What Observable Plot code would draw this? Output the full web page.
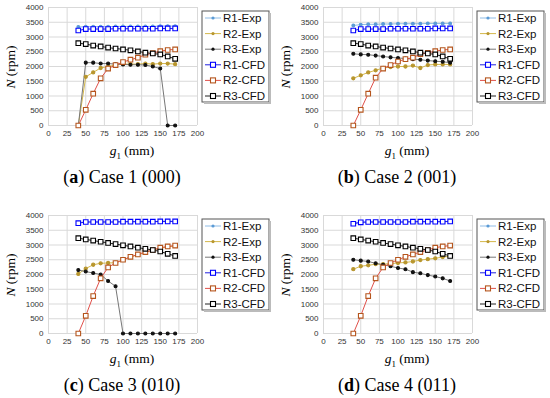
<!DOCTYPE html>
<html><head><meta charset="utf-8">
<script src="https://cdn.jsdelivr.net/npm/d3@7"></script>
<script src="https://cdn.jsdelivr.net/npm/@observablehq/plot@0.6"></script>
<style>
body{margin:0;background:#fff;}
#wrap{position:relative;width:550px;height:398px;overflow:hidden;background:#fff;}
.panel{position:absolute;width:275px;height:200px;}
.panel svg.plot{position:absolute;left:0;top:0;}
.ylab{position:absolute;font-family:"Liberation Serif",serif;font-size:13.5px;transform:translate(-50%,-50%) rotate(-90deg);white-space:nowrap;}
.xlab{position:absolute;font-family:"Liberation Serif",serif;font-size:13.5px;transform:translate(-50%,-50%);white-space:nowrap;}
.cap{position:absolute;font-family:"Liberation Serif",serif;font-size:18px;transform:translate(-50%,-50%);white-space:nowrap;}
.leg{position:absolute;}
</style></head>
<body><div id="wrap"></div>
<script>
const gapX = [40,50,60,70,80,90,100,110,120,130,140,150,160,170];
const xTicks = [0,25,50,75,100,125,150,175,200];
const yTicks = [0,500,1000,1500,2000,2500,3000,3500,4000];
const seriesNames = ["R1-Exp","R2-Exp","R3-Exp","R1-CFD","R2-CFD","R3-CFD"];
const captionLetters = ["a","b","c","d"];
const captionTexts = ["Case 1 (000)","Case 2 (001)","Case 3 (010)","Case 4 (011)"];

// Case 1 (000)
const c1R1Exp = [3340,3350,3350,3350,3350,3360,3360,3360,3360,3360,3360,3370,3370,3370];
const c1R2Exp = [0,1650,1800,1950,2000,2050,2080,2080,2080,2100,2080,2100,2100,2080];
const c1R3Exp = [0,2130,2130,2100,2100,2080,2070,2060,2060,2050,2000,1930,0,0];
const c1R1CFD = [3220,3270,3270,3270,3270,3280,3280,3280,3280,3280,3280,3290,3290,3290];
const c1R2CFD = [0,530,1080,1600,1930,2050,2150,2230,2300,2400,2450,2520,2560,2580];
const c1R3CFD = [2790,2760,2710,2680,2640,2610,2580,2550,2510,2470,2440,2410,2340,2260];
// Case 2 (001)
const c2R1Exp = [3390,3420,3430,3430,3440,3440,3450,3450,3450,3450,3460,3460,3460,3460];
const c2R2Exp = [1600,1700,1800,1870,1950,1980,2000,2000,2030,1950,2050,2070,2070,2070];
const c2R3Exp = [2430,2410,2400,2370,2340,2310,2290,2270,2250,2230,2200,2180,2160,2130];
const c2R1CFD = [3220,3270,3270,3270,3270,3280,3280,3280,3280,3280,3280,3290,3290,3290];
const c2R2CFD = [0,530,1080,1620,1930,2050,2170,2250,2300,2420,2460,2520,2560,2580];
const c2R3CFD = [2790,2760,2710,2680,2640,2610,2580,2550,2510,2470,2440,2410,2340,2260];
// Case 3 (010)
const c3R1Exp = [3760,3780,3780,3780,3780,3780,3790,3790,3790,3790,3790,3800,3800,3800];
const c3R2Exp = [2020,2200,2330,2380,2390,2400,2490,2590,2670,2750,2820,2890,2940,2970];
const c3R3Exp = [2150,2100,2050,2000,1780,1600,0,0,0,0,0,0,0,0];
const c3R1CFD = [3740,3780,3780,3780,3780,3780,3790,3790,3790,3790,3790,3800,3800,3800];
const c3R2CFD = [0,600,1270,1870,2240,2390,2500,2600,2680,2760,2830,2910,2950,2980];
const c3R3CFD = [3230,3190,3150,3110,3070,3030,2990,2950,2910,2870,2830,2780,2700,2630];
// Case 4 (011)
const c4R1Exp = [3740,3770,3780,3780,3780,3780,3780,3780,3790,3790,3790,3790,3790,3800];
const c4R2Exp = [2180,2280,2310,2350,2350,2370,2390,2410,2440,2490,2520,2550,2590,2620];
const c4R3Exp = [2500,2470,2440,2380,2330,2280,2220,2180,2080,2040,1980,1930,1870,1780];
const c4R1CFD = [3720,3770,3780,3780,3780,3780,3780,3780,3790,3790,3790,3790,3790,3800];
const c4R2CFD = [0,600,1270,1870,2240,2390,2500,2600,2680,2760,2830,2910,2950,2980];
const c4R3CFD = [3230,3190,3150,3110,3070,3030,2990,2950,2910,2870,2830,2780,2700,2630];

const cases = [
  [c1R1Exp,c1R2Exp,c1R3Exp,c1R1CFD,c1R2CFD,c1R3CFD],
  [c2R1Exp,c2R2Exp,c2R3Exp,c2R1CFD,c2R2CFD,c2R3CFD],
  [c3R1Exp,c3R2Exp,c3R3Exp,c3R1CFD,c3R2CFD,c3R3CFD],
  [c4R1Exp,c4R2Exp,c4R3Exp,c4R1CFD,c4R2CFD,c4R3CFD]
];

const styles = [
  {line:"#8fbce6", mark:"#5b9bd5", symbol:"circle", r:1.4, fill:"#5b9bd5"},
  {line:"#d4b84a", mark:"#b8962e", symbol:"circle", r:1.6, fill:"#b8962e"},
  {line:"#777777", mark:"#111111", symbol:"circle", r:1.5, fill:"#111111"},
  {line:"#2020e0", mark:"#0000ff", symbol:"square", r:2.6, fill:"white"},
  {line:"#e0504a", mark:"#b5551d", symbol:"square", r:2.6, fill:"white"},
  {line:"#222222", mark:"#000000", symbol:"square", r:2.6, fill:"white"}
];

const wrap = document.getElementById("wrap");
const offsets = [[0,0],[275,0],[0,200],[275,200]];

cases.forEach((cs, ci) => {
  const top = ci < 2 ? 7 : 15;
  const div = document.createElement("div");
  div.className = "panel";
  div.style.left = offsets[ci][0] + "px";
  div.style.top = offsets[ci][1] + "px";
  wrap.appendChild(div);

  const marks = [
    Plot.gridX(xTicks, {stroke:"#d9d9d9", strokeOpacity:1}),
    Plot.gridY(yTicks, {stroke:"#d9d9d9", strokeOpacity:1})
  ];
  cs.forEach((vals, si) => {
    const st = styles[si];
    const d = gapX.map((x, i) => ({x, y: vals[i]}));
    marks.push(Plot.line(d, {x:"x", y:"y", stroke:st.line, strokeWidth:1}));
  });
  cs.forEach((vals, si) => {
    const st = styles[si];
    const d = gapX.map((x, i) => ({x, y: vals[i]}));
    marks.push(Plot.dot(d, {x:"x", y:"y", symbol:st.symbol, r:st.r, stroke:st.mark, fill:st.fill, strokeWidth:1.1}));
  });

  const svg = Plot.plot({
    width:275, height: top + 118 + 35,
    marginLeft:48, marginRight:78, marginTop:top, marginBottom:35,
    x:{domain:[0,200], ticks:xTicks, tickSize:0, tickPadding:5, label:null, tickFormat:d => String(d)},
    y:{domain:[0,4000], ticks:yTicks, tickSize:0, tickPadding:5, label:null, tickFormat:d => String(d)},
    style:{fontSize:"8px", fontFamily:"Liberation Sans, Arial, sans-serif", color:"#333", background:"transparent", overflow:"visible"},
    marks
  });
  svg.classList.add("plot");
  div.appendChild(svg);

  const yl = document.createElement("div");
  yl.className = "ylab";
  yl.style.left = "11px"; yl.style.top = (top + 60) + "px";
  yl.innerHTML = "<i>N</i> (rpm)";
  div.appendChild(yl);

  const xl = document.createElement("div");
  xl.className = "xlab";
  xl.style.left = "132px"; xl.style.top = (top + 145) + "px";
  xl.innerHTML = "<i>g</i><sub style='font-size:9px'>1</sub> (mm)";
  div.appendChild(xl);

  const cap = document.createElement("div");
  cap.className = "cap";
  cap.style.left = "122px"; cap.style.top = (top + 170) + "px";
  cap.innerHTML = "(<b>" + captionLetters[ci] + "</b>) " + captionTexts[ci];
  div.appendChild(cap);

  // legend
  const ns = "http://www.w3.org/2000/svg";
  const leg = document.createElementNS(ns, "svg");
  leg.setAttribute("class","leg");
  leg.setAttribute("width","72"); leg.setAttribute("height","96");
  leg.style.left = "201px"; leg.style.top = (top + 3) + "px";
  leg.style.position = "absolute";
  let html = `<rect x="1" y="1" width="67" height="91" fill="white" stroke="#555" stroke-width="1"/>
  <rect x="68" y="3" width="2" height="91" fill="#bbb"/><rect x="3" y="92" width="67" height="2" fill="#bbb"/>`;
  seriesNames.forEach((name, si) => {
    const st = styles[si];
    const yy = 8 + si * 15.6;
    html += `<line x1="4" x2="20" y1="${yy}" y2="${yy}" stroke="${st.line}" stroke-width="1"/>`;
    if (st.symbol === "square") html += `<rect x="${12-2.5}" y="${yy-2.5}" width="5" height="5" fill="white" stroke="${st.mark}" stroke-width="1.1"/>`;
    else html += `<circle cx="12" cy="${yy}" r="1.6" fill="${st.fill}"/>`;
    html += `<text x="22" y="${yy+4}" font-family="Liberation Sans, Arial, sans-serif" font-size="11.5" fill="#111">${name}</text>`;
  });
  leg.innerHTML = html;
  div.appendChild(leg);
});
</script></body></html>
